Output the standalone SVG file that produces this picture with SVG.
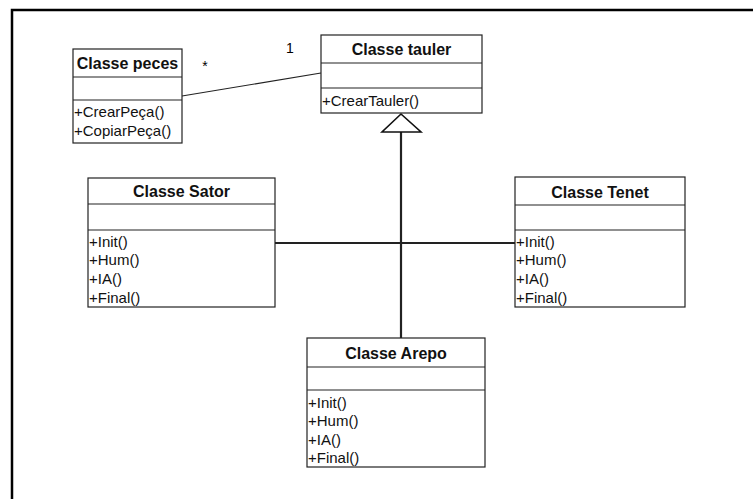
<svg xmlns="http://www.w3.org/2000/svg" width="753" height="499" viewBox="0 0 753 499">
<style>
.box{fill:#fff;stroke:#222;stroke-width:1.2}
.div{stroke:#222;stroke-width:1.2}
.t{font-family:"Liberation Sans",Arial,sans-serif;font-size:16px;font-weight:bold;fill:#111;text-anchor:middle}
.m{font-family:"Liberation Sans",Arial,sans-serif;font-size:15px;fill:#111}
.lbl{font-family:"Liberation Sans",Arial,sans-serif;font-size:14px;fill:#000}
.c{stroke:#222;fill:none}
</style>
<rect width="753" height="499" fill="#fff"/>
<path d="M12,499 L12,10 L753,10" fill="none" stroke="#000" stroke-width="2.5"/>
<g id="connectors">
<line class="c" x1="182" y1="96" x2="321" y2="73" stroke-width="1.2"/>
<line class="c" x1="401" y1="132" x2="401" y2="338" stroke-width="2.2"/>
<line class="c" x1="275" y1="243" x2="515" y2="243" stroke-width="2.2"/>
<polygon points="401,114 382,132 421,132" fill="#fff" stroke="#111" stroke-width="1.6"/>
<text class="lbl" x="205" y="71" text-anchor="middle">*</text>
<text class="lbl" x="290" y="53" text-anchor="middle">1</text>
</g>
<g id="peces">
<rect class="box" x="73" y="49" width="109" height="94"/>
<line class="div" x1="73" y1="77" x2="182" y2="77"/>
<line class="div" x1="73" y1="100" x2="182" y2="100"/>
<text class="t" x="127.5" y="69">Classe peces</text>
<text class="m" x="74" y="117">+CrearPeça()</text>
<text class="m" x="74" y="136">+CopiarPeça()</text>
</g>
<g id="tauler">
<rect class="box" x="321" y="35" width="161" height="78"/>
<line class="div" x1="321" y1="63" x2="482" y2="63"/>
<line class="div" x1="321" y1="88" x2="482" y2="88"/>
<text class="t" x="401.5" y="55">Classe tauler</text>
<text class="m" x="322" y="106">+CrearTauler()</text>
</g>
<g id="sator">
<rect class="box" x="88" y="178" width="187" height="129"/>
<line class="div" x1="88" y1="204" x2="275" y2="204"/>
<line class="div" x1="88" y1="230" x2="275" y2="230"/>
<text class="t" x="181.5" y="197">Classe Sator</text>
<text class="m" x="89" y="247">+Init()</text>
<text class="m" x="89" y="265">+Hum()</text>
<text class="m" x="89" y="284">+IA()</text>
<text class="m" x="89" y="303">+Final()</text>
</g>
<g id="tenet">
<rect class="box" x="515" y="177" width="170" height="130"/>
<line class="div" x1="515" y1="205" x2="685" y2="205"/>
<line class="div" x1="515" y1="230" x2="685" y2="230"/>
<text class="t" x="600" y="198">Classe Tenet</text>
<text class="m" x="516" y="247">+Init()</text>
<text class="m" x="516" y="265">+Hum()</text>
<text class="m" x="516" y="284">+IA()</text>
<text class="m" x="516" y="303">+Final()</text>
</g>
<g id="arepo">
<rect class="box" x="307" y="338" width="178" height="129"/>
<line class="div" x1="307" y1="367" x2="485" y2="367"/>
<line class="div" x1="307" y1="390" x2="485" y2="390"/>
<text class="t" x="396" y="359">Classe Arepo</text>
<text class="m" x="308" y="408">+Init()</text>
<text class="m" x="308" y="426">+Hum()</text>
<text class="m" x="308" y="445">+IA()</text>
<text class="m" x="308" y="463">+Final()</text>
</g>
</svg>
